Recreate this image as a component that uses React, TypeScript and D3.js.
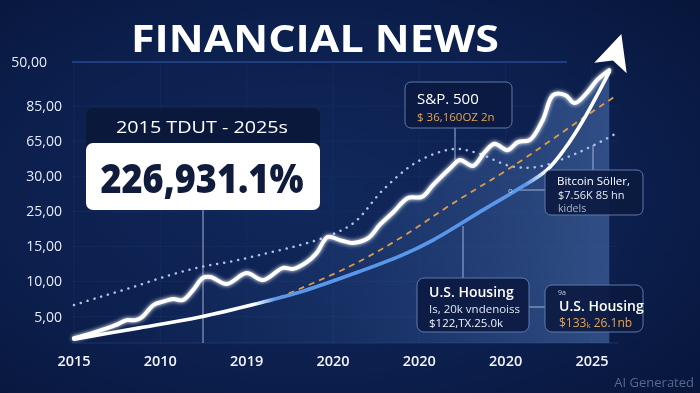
import React from "react";
import * as d3 from "d3";

// axis labels (as printed in the picture)
const yTickLabels = ["5,00", "10,00", "15,00", "25,00", "30,00", "65,00", "85,00", "50,00"];
const yTickValues = [0.75, 1.75, 2.75, 3.75, 4.75, 5.75, 6.75, 8];
const xTickLabels = ["2015", "2010", "2019", "2020", "2020", "2020", "2025"];

// series, [x index, value]
const marketLine: [number, number][] = [
  [0, 0.14], [0.185, 0.26], [0.36, 0.4], [0.51, 0.54], [0.61, 0.65], [0.71, 0.65],
  [0.79, 0.74], [0.92, 1.08], [1.02, 1.17], [1.15, 1.25], [1.26, 1.22], [1.38, 1.51],
  [1.49, 1.85], [1.58, 1.88], [1.77, 1.68], [2.0, 1.99], [2.19, 1.79], [2.42, 2.14],
  [2.54, 2.11], [2.7, 2.31], [2.81, 2.56], [2.94, 3.02], [3.08, 2.93], [3.22, 2.85],
  [3.41, 2.99], [3.54, 3.36], [3.7, 3.73], [3.87, 4.13], [4.03, 4.16], [4.16, 4.5],
  [4.36, 4.98], [4.47, 5.21], [4.62, 5.04], [4.76, 5.44], [4.87, 5.67], [5.02, 5.49],
  [5.14, 5.72], [5.28, 5.78], [5.43, 6.35], [5.55, 7.06], [5.69, 7.06], [5.8, 6.83],
  [5.94, 7.12], [6.06, 7.49], [6.2, 7.77],
];
const growthCurve: [number, number][] = [
  [0, 0.11], [0.76, 0.43], [1.46, 0.74], [2.15, 1.14], [2.62, 1.45], [3.2, 1.94],
  [3.78, 2.48], [4.16, 2.93], [4.74, 3.79], [5.13, 4.36], [5.48, 4.93], [5.69, 5.55],
  [5.9, 6.35], [6.06, 7.06], [6.2, 7.72],
];
const trendLine: [number, number][] = [
  [2.25, 1.17], [3.16, 2.14], [3.78, 2.99], [4.36, 3.93], [5.05, 4.98], [5.9, 6.41], [6.29, 7.06],
];
const housingLine: [number, number][] = [
  [0, 1.08], [0.3, 1.31], [0.68, 1.59], [1.08, 1.91], [1.46, 2.16], [1.84, 2.33],
  [2.24, 2.56], [2.62, 2.79], [2.97, 3.07], [3.25, 3.44], [3.58, 4.36], [3.97, 5.15],
  [4.39, 5.52], [4.67, 5.41], [5.05, 5.04], [5.36, 5.01], [5.83, 5.41], [6.29, 5.98],
];
const arrowTip: [number, number] = [6.34, 8.8];

const W = 700;
const H = 393;
const FONT = "'Open Sans', 'DejaVu Sans', sans-serif";

export default function App() {
  const x = d3.scaleLinear().domain([0, 6]).range([74, 592]);
  const y = d3.scaleLinear().domain([0, 8]).range([343, 62]);
  const xEnd = x(6.3);

  const line = d3
    .line<[number, number]>()
    .x((d) => x(d[0]))
    .y((d) => y(d[1]))
    .curve(d3.curveCatmullRom.alpha(0.5));
  const area = d3
    .area<[number, number]>()
    .x((d) => x(d[0]))
    .y0(y(0))
    .y1((d) => y(d[1]))
    .curve(d3.curveCatmullRom.alpha(0.5));

  // arrow head at the end of the two rising lines
  const end = growthCurve[growthCurve.length - 1];
  const ex = x(end[0]);
  const ey = y(end[1]);
  const tx = x(arrowTip[0]);
  const ty = y(arrowTip[1]);
  const len = Math.hypot(tx - ex, ty - ey);
  const ux = (tx - ex) / len;
  const uy = (ty - ey) / len;
  const hw = 17;
  const bx = ex + ux * 4;
  const by = ey + uy * 4;
  const arrow = [
    [tx, ty],
    [bx - uy * hw, by + ux * hw],
    [bx + ux * 8, by + uy * 8],
    [bx + uy * hw, by - ux * hw],
  ]
    .map((p) => p.join(","))
    .join(" ");

  return (
    <svg
      width={W}
      height={H}
      style={{ position: "fixed", left: 0, top: 0, display: "block" }}
      fontFamily={FONT}
    >
      <defs>
        <radialGradient id="bg" cx="45%" cy="50%" r="75%">
          <stop offset="0%" stopColor="#11285c" />
          <stop offset="60%" stopColor="#0c1f4d" />
          <stop offset="100%" stopColor="#07153a" />
        </radialGradient>
        <linearGradient id="areaGrad" gradientUnits="userSpaceOnUse" x1={x(0)} x2={xEnd} y1={0} y2={0}>
          <stop offset="0%" stopColor="#1d3c7a" stopOpacity={0} />
          <stop offset="45%" stopColor="#274a88" stopOpacity={0.3} />
          <stop offset="100%" stopColor="#466aa6" stopOpacity={0.65} />
        </linearGradient>
        <linearGradient id="growthGrad" gradientUnits="userSpaceOnUse" x1={x(0)} x2={xEnd} y1={0} y2={0}>
          <stop offset="33%" stopColor="#ffffff" />
          <stop offset="37%" stopColor="#5a97ec" />
          <stop offset="83%" stopColor="#5a97ec" />
          <stop offset="87%" stopColor="#ffffff" />
        </linearGradient>
        <filter id="glow" x="-10%" y="-10%" width="120%" height="120%">
          <feGaussianBlur stdDeviation="2" result="b" />
          <feMerge>
            <feMergeNode in="b" />
            <feMergeNode in="SourceGraphic" />
          </feMerge>
        </filter>
      </defs>

      <rect width={W} height={H} fill="url(#bg)" />

      {/* grid */}
      {yTickValues.map((v, i) => (
        <line
          key={"gy" + i}
          x1={72}
          x2={i === yTickValues.length - 1 ? 567 : xEnd}
          y1={y(v)}
          y2={y(v)}
          stroke={i === yTickValues.length - 1 ? "#24498f" : "#1a3266"}
          strokeOpacity={i === yTickValues.length - 1 ? 1 : 0.5}
          strokeWidth={i === yTickValues.length - 1 ? 1.5 : 1}
        />
      ))}
      {xTickLabels.map((_, i) => (
        <line key={"gx" + i} x1={x(i)} x2={x(i)} y1={y(8)} y2={y(0)} stroke="#1a3266" strokeOpacity={0.45} />
      ))}
      <line x1={72} x2={xEnd} y1={y(0)} y2={y(0)} stroke="#23407c" strokeOpacity={0.7} />

      {/* area under the market line */}
      <path d={area(marketLine) ?? ""} fill="url(#areaGrad)" />

      {/* leader lines */}
      <line x1={203} x2={203} y1={210} y2={y(0)} stroke="#c7d3ea" strokeWidth={1} strokeOpacity={0.8} />
      <line x1={455} x2={455} y1={128} y2={160} stroke="#9fb2d6" strokeWidth={1} />
      <line x1={463} x2={463} y1={226} y2={278} stroke="#9fb2d6" strokeWidth={1} />
      <line x1={593} x2={593} y1={145} y2={170} stroke="#9fb2d6" strokeWidth={1} />
      <line x1={514} x2={545} y1={190} y2={190} stroke="#9fb2d6" strokeWidth={1} />
      <line x1={529} x2={545} y1={307} y2={307} stroke="#9fb2d6" strokeWidth={1} />

      {/* lines */}
      <path
        d={line(housingLine) ?? ""}
        fill="none"
        stroke="#b0c2e3"
        strokeWidth={2.5}
        strokeDasharray="0.1 7"
        strokeLinecap="round"
      />
      <path d={line(trendLine) ?? ""} fill="none" stroke="#e39a45" strokeWidth={1.8} strokeDasharray="6 5" />
      <path
        d={line(growthCurve) ?? ""}
        fill="none"
        stroke="url(#growthGrad)"
        strokeWidth={3.6}
        strokeLinecap="round"
      />
      <path
        d={line(marketLine) ?? ""}
        fill="none"
        stroke="#ffffff"
        strokeWidth={4}
        strokeLinecap="round"
        strokeLinejoin="round"
        filter="url(#glow)"
      />
      <polygon points={arrow} fill="#ffffff" />

      {/* title */}
      <text x={315} y={52} textAnchor="middle" fill="#ffffff" fontSize={38} fontWeight={700} textLength={368} lengthAdjust="spacingAndGlyphs">
        FINANCIAL NEWS
      </text>

      {/* axes labels */}
      {yTickLabels.map((t, i) => (
        <text
          key={"yl" + i}
          x={i === yTickLabels.length - 1 ? 47 : 62}
          y={y(yTickValues[i])}
          dy="0.35em"
          textAnchor="end"
          fill="#e6ecf7"
          fontSize={14}
          fontWeight={500}
        >
          {t}
        </text>
      ))}
      {xTickLabels.map((t, i) => (
        <text key={"xl" + i} x={x(i)} y={366} textAnchor="middle" fill="#f2f5fb" fontSize={14.5} fontWeight={600}>
          {t}
        </text>
      ))}

      {/* headline box */}
      <rect x={86} y={108} width={234} height={50} rx={7} fill="#0a1838" fillOpacity={0.9} />
      <text x={202} y={133} textAnchor="middle" fill="#ffffff" fontSize={17} fontWeight={500} textLength={172} lengthAdjust="spacingAndGlyphs">
        2015 TDUT - 2025s
      </text>
      <rect x={86} y={143} width={234} height={67} rx={7} fill="#ffffff" />
      <text x={202} y={193} textAnchor="middle" fill="#111c3d" fontSize={40} fontWeight={800} textLength={203} lengthAdjust="spacingAndGlyphs">
        226,931.1%
      </text>

      {/* S&P box */}
      <rect x={405} y={82} width={107} height={46} rx={6} fill="#0b1a40" fillOpacity={0.9} stroke="#5c78aa" />
      <text x={417} y={104} fill="#ffffff" fontSize={15} fontWeight={500}>S&amp;P. 500</text>
      <text x={417} y={121} fill="#e8a54f" fontSize={11.5}>$ 36,160OZ 2n</text>

      {/* Bitcoin box */}
      <rect x={545} y={170} width={98} height={45} rx={6} fill="#0b1a40" fillOpacity={0.9} stroke="#5c78aa" />
      <text x={557} y={185} fill="#ffffff" fontSize={11.5} fontWeight={500}>Bitcoin  Söller,</text>
      <text x={558} y={199} fill="#e3e8f2" fontSize={11}>$7.56K 85 hn</text>
      <text x={558} y={212} fill="#aab6cc" fontSize={10.5}>kidels</text>
      <text x={508} y={193} fill="#c6d0e3" fontSize={8}>o</text>

      {/* housing boxes */}
      <rect x={417} y={278} width={112} height={54} rx={7} fill="#0b1a40" fillOpacity={0.9} stroke="#5c78aa" />
      <text x={429} y={297} fill="#ffffff" fontSize={14} fontWeight={600}>U.S.  Housing</text>
      <text x={429} y={313} fill="#dfe5f0" fontSize={11.5}>Is, 20k vndenoiss</text>
      <text x={429} y={327} fill="#eef2f8" fontSize={11.5}>$122,TX.25.0k</text>

      <rect x={545} y={285} width={98} height={47} rx={7} fill="#0b1a40" fillOpacity={0.9} stroke="#5c78aa" />
      <text x={558} y={295} fill="#c6d0e3" fontSize={7}>9a</text>
      <text x={559} y={311} fill="#ffffff" fontSize={14} fontWeight={600}>U.S. Housing</text>
      <text x={559} y={327} fill="#e8a54f" fontSize={12}>$133ₖ 26.1nb</text>

      <text x={694} y={387} textAnchor="end" fill="#55698f" fontSize={13}>AI Generated</text>
    </svg>
  );
}
